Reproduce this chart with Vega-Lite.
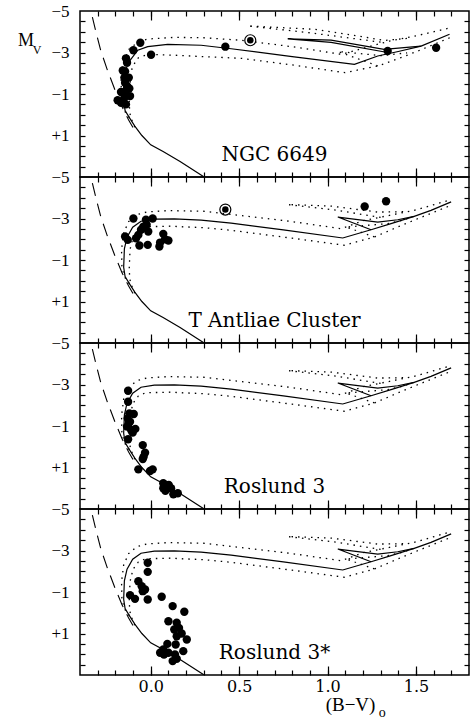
{
"$schema": "https://vega.github.io/schema/vega-lite/v6.json",
"padding": {"left": 17, "top": 1, "right": 2, "bottom": 2},
"background": "white",
"config": {"view": {"stroke": "black", "strokeWidth": 1.5}, "text": {"fill": "black"}},
"spacing": 0,
"bounds": "flush",
"datasets": {
"stars": [
{"p":1,"x":-0.059,"y":-3.47,"k":"s"},{"p":1,"x":-0.098,"y":-3.11,"k":"s"},{"p":1,"x":0.002,"y":-2.89,"k":"s"},{"p":1,"x":0.422,"y":-3.28,"k":"s"},
{"p":1,"x":-0.14,"y":-2.72,"k":"s"},{"p":1,"x":-0.134,"y":-2.51,"k":"s"},{"p":1,"x":-0.145,"y":-2.09,"k":"s"},{"p":1,"x":-0.158,"y":-2.13,"k":"s"},
{"p":1,"x":-0.124,"y":-1.79,"k":"s"},{"p":1,"x":-0.145,"y":-1.54,"k":"s"},{"p":1,"x":-0.121,"y":-1.27,"k":"s"},{"p":1,"x":-0.14,"y":-1.14,"k":"s"},
{"p":1,"x":-0.168,"y":-1.10,"k":"s"},{"p":1,"x":-0.117,"y":-0.90,"k":"s"},{"p":1,"x":-0.149,"y":-0.82,"k":"s"},{"p":1,"x":-0.187,"y":-0.70,"k":"s"},
{"p":1,"x":-0.168,"y":-0.58,"k":"s"},{"p":1,"x":-0.14,"y":-0.50,"k":"s"},{"p":1,"x":-0.158,"y":-0.65,"k":"s"},{"p":1,"x":-0.134,"y":-1.39,"k":"s"},
{"p":1,"x":-0.149,"y":-1.79,"k":"s"},{"p":1,"x":1.34,"y":-3.07,"k":"s"},{"p":1,"x":1.614,"y":-3.23,"k":"s"},{"p":1,"x":0.563,"y":-3.59,"k":"c"},
{"p":2,"x":-0.098,"y":-3.0,"k":"s"},{"p":2,"x":-0.027,"y":-2.94,"k":"s"},{"p":2,"x":0.011,"y":-3.0,"k":"s"},{"p":2,"x":-0.023,"y":-2.70,"k":"s"},
{"p":2,"x":-0.014,"y":-2.37,"k":"s"},{"p":2,"x":-0.055,"y":-2.46,"k":"s"},{"p":2,"x":-0.07,"y":-2.21,"k":"s"},{"p":2,"x":-0.083,"y":-2.05,"k":"s"},
{"p":2,"x":-0.145,"y":-2.13,"k":"s"},{"p":2,"x":-0.13,"y":-1.97,"k":"s"},{"p":2,"x":-0.064,"y":-1.70,"k":"s"},{"p":2,"x":-0.017,"y":-1.73,"k":"s"},
{"p":2,"x":0.071,"y":-2.26,"k":"s"},{"p":2,"x":0.1,"y":-1.94,"k":"s"},{"p":2,"x":0.053,"y":-1.84,"k":"s"},{"p":2,"x":0.049,"y":-1.65,"k":"s"},
{"p":2,"x":0.081,"y":-2.0,"k":"s"},{"p":2,"x":-0.042,"y":-2.61,"k":"s"},{"p":2,"x":1.21,"y":-3.58,"k":"s"},{"p":2,"x":1.331,"y":-3.83,"k":"s"},
{"p":2,"x":0.422,"y":-3.43,"k":"c"},
{"p":3,"x":-0.128,"y":-2.70,"k":"s"},{"p":3,"x":-0.128,"y":-2.17,"k":"s"},{"p":3,"x":-0.121,"y":-1.61,"k":"s"},{"p":3,"x":-0.096,"y":-1.58,"k":"s"},
{"p":3,"x":-0.13,"y":-1.37,"k":"s"},{"p":3,"x":-0.117,"y":-1.21,"k":"s"},{"p":3,"x":-0.134,"y":-0.97,"k":"s"},{"p":3,"x":-0.111,"y":-0.81,"k":"s"},
{"p":3,"x":-0.087,"y":-0.86,"k":"s"},{"p":3,"x":-0.102,"y":-0.68,"k":"s"},{"p":3,"x":-0.124,"y":-1.13,"k":"s"},{"p":3,"x":-0.128,"y":-0.36,"k":"s"},
{"p":3,"x":-0.045,"y":-0.08,"k":"s"},{"p":3,"x":-0.032,"y":0.29,"k":"s"},{"p":3,"x":-0.045,"y":0.59,"k":"s"},{"p":3,"x":-0.04,"y":0.48,"k":"s"},
{"p":3,"x":-0.07,"y":1.09,"k":"s"},{"p":3,"x":-0.004,"y":1.17,"k":"s"},{"p":3,"x":0.011,"y":1.09,"k":"s"},{"p":3,"x":0.071,"y":1.76,"k":"s"},
{"p":3,"x":0.071,"y":2.0,"k":"s"},{"p":3,"x":0.102,"y":1.84,"k":"s"},{"p":3,"x":0.115,"y":2.0,"k":"s"},{"p":3,"x":0.09,"y":1.93,"k":"s"},
{"p":3,"x":0.128,"y":2.29,"k":"s"},{"p":3,"x":0.153,"y":2.24,"k":"s"},{"p":3,"x":0.083,"y":2.12,"k":"s"},
{"p":4,"x":-0.017,"y":-2.41,"k":"s"},{"p":4,"x":-0.017,"y":-1.97,"k":"s"},{"p":4,"x":-0.07,"y":-1.52,"k":"s"},{"p":4,"x":-0.051,"y":-1.28,"k":"s"},
{"p":4,"x":-0.032,"y":-1.12,"k":"s"},{"p":4,"x":-0.045,"y":-1.04,"k":"s"},{"p":4,"x":-0.117,"y":-0.85,"k":"s"},{"p":4,"x":-0.089,"y":-0.67,"k":"s"},
{"p":4,"x":-0.017,"y":-0.64,"k":"s"},{"p":4,"x":0.062,"y":-0.77,"k":"s"},{"p":4,"x":0.124,"y":-0.32,"k":"s"},{"p":4,"x":0.19,"y":-0.05,"k":"s"},
{"p":4,"x":0.1,"y":0.41,"k":"s"},{"p":4,"x":0.147,"y":0.48,"k":"s"},{"p":4,"x":0.16,"y":0.73,"k":"s"},{"p":4,"x":0.133,"y":0.81,"k":"s"},
{"p":4,"x":0.175,"y":1.0,"k":"s"},{"p":4,"x":0.147,"y":1.13,"k":"s"},{"p":4,"x":0.204,"y":1.29,"k":"s"},{"p":4,"x":0.094,"y":1.5,"k":"s"},
{"p":4,"x":0.141,"y":1.53,"k":"s"},{"p":4,"x":0.184,"y":1.85,"k":"s"},{"p":4,"x":0.071,"y":1.77,"k":"s"},{"p":4,"x":0.075,"y":2.01,"k":"s"},
{"p":4,"x":0.1,"y":1.93,"k":"s"},{"p":4,"x":0.137,"y":2.01,"k":"s"},{"p":4,"x":0.147,"y":2.22,"k":"s"},{"p":4,"x":0.124,"y":2.33,"k":"s"},
{"p":4,"x":0.053,"y":1.93,"k":"s"}
],
"labels": [
{"p":1,"x":0.70,"y":2.23,"t":"NGC 6649"},
{"p":2,"x":0.70,"y":2.23,"t":"T Antliae Cluster"},
{"p":3,"x":0.70,"y":2.23,"t":"Roslund 3"},
{"p":4,"x":0.70,"y":2.23,"t":"Roslund 3*"}
],
"iso": [
{"s":"Z","t":"Z","g":"Z","i":1,"x":-0.33,"y":-4.7},{"s":"Z","t":"Z","g":"Z","i":2,"x":-0.31,"y":-4.0},{"s":"Z","t":"Z","g":"Z","i":3,"x":-0.283,"y":-3.1},
{"s":"Z","t":"Z","g":"Z","i":4,"x":-0.245,"y":-2.15},{"s":"Z","t":"Z","g":"Z","i":5,"x":-0.2,"y":-1.15},{"s":"Z","t":"Z","g":"Z","i":6,"x":-0.163,"y":-0.4},
{"s":"Z","t":"Z","g":"Z","i":7,"x":-0.125,"y":0.25},{"s":"Z","t":"Z","g":"Z","i":8,"x":-0.095,"y":0.7},

{"s":"B","t":"S","g":"Bs1","i":1,"x":0.30,"y":2.99},{"s":"B","t":"S","g":"Bs1","i":2,"x":0.166,"y":2.25},{"s":"B","t":"S","g":"Bs1","i":3,"x":0.07,"y":1.77},
{"s":"B","t":"S","g":"Bs1","i":4,"x":0.0,"y":1.45},{"s":"B","t":"S","g":"Bs1","i":5,"x":-0.05,"y":1.0},{"s":"B","t":"S","g":"Bs1","i":6,"x":-0.09,"y":0.55},
{"s":"B","t":"S","g":"Bs1","i":7,"x":-0.12,"y":0.15},{"s":"B","t":"S","g":"Bs1","i":8,"x":-0.145,"y":-0.2},{"s":"B","t":"S","g":"Bs1","i":9,"x":-0.153,"y":-0.65},
{"s":"B","t":"S","g":"Bs1","i":10,"x":-0.149,"y":-1.54},{"s":"B","t":"S","g":"Bs1","i":11,"x":-0.134,"y":-2.10},{"s":"B","t":"S","g":"Bs1","i":12,"x":-0.102,"y":-2.58},
{"s":"B","t":"S","g":"Bs1","i":13,"x":-0.055,"y":-2.87},{"s":"B","t":"S","g":"Bs1","i":14,"x":0.02,"y":-2.97},{"s":"B","t":"S","g":"Bs1","i":15,"x":0.133,"y":-2.98},
{"s":"B","t":"S","g":"Bs1","i":16,"x":0.285,"y":-2.92},{"s":"B","t":"S","g":"Bs1","i":17,"x":0.455,"y":-2.78},{"s":"B","t":"S","g":"Bs1","i":18,"x":0.75,"y":-2.45},
{"s":"B","t":"S","g":"Bs1","i":19,"x":1.086,"y":-2.06},{"s":"B","t":"S","g":"Bs1","i":20,"x":1.246,"y":-2.46},{"s":"B","t":"S","g":"Bs1","i":21,"x":1.359,"y":-2.75},
{"s":"B","t":"S","g":"Bs1","i":22,"x":1.49,"y":-3.10},{"s":"B","t":"S","g":"Bs1","i":23,"x":1.585,"y":-3.39},{"s":"B","t":"S","g":"Bs1","i":24,"x":1.699,"y":-3.80},
{"s":"B","t":"S","g":"Bs2","i":1,"x":1.246,"y":-2.46},{"s":"B","t":"S","g":"Bs2","i":2,"x":1.058,"y":-3.07},{"s":"B","t":"S","g":"Bs2","i":3,"x":1.284,"y":-2.83},
{"s":"B","t":"S","g":"Bs2","i":4,"x":1.397,"y":-2.94},{"s":"B","t":"S","g":"Bs2","i":5,"x":1.49,"y":-3.10},

{"s":"B","t":"D","g":"Bu1","i":1,"x":-0.12,"y":0.15},{"s":"B","t":"D","g":"Bu1","i":2,"x":-0.150,"y":-0.2},{"s":"B","t":"D","g":"Bu1","i":3,"x":-0.163,"y":-0.65},
{"s":"B","t":"D","g":"Bu1","i":4,"x":-0.165,"y":-1.5},{"s":"B","t":"D","g":"Bu1","i":5,"x":-0.153,"y":-2.3},{"s":"B","t":"D","g":"Bu1","i":6,"x":-0.125,"y":-2.85},
{"s":"B","t":"D","g":"Bu1","i":7,"x":-0.08,"y":-3.18},{"s":"B","t":"D","g":"Bu1","i":8,"x":-0.02,"y":-3.32},{"s":"B","t":"D","g":"Bu1","i":9,"x":0.1,"y":-3.38},
{"s":"B","t":"D","g":"Bu1","i":10,"x":0.3,"y":-3.35},{"s":"B","t":"D","g":"Bu1","i":11,"x":0.455,"y":-3.2},{"s":"B","t":"D","g":"Bu1","i":12,"x":0.8,"y":-2.85},
{"s":"B","t":"D","g":"Bu1","i":13,"x":1.077,"y":-2.51},{"s":"B","t":"D","g":"Bu1","i":14,"x":1.208,"y":-2.91},{"s":"B","t":"D","g":"Bu1","i":15,"x":1.35,"y":-3.15},
{"s":"B","t":"D","g":"Bu1","i":16,"x":1.49,"y":-3.39},{"s":"B","t":"D","g":"Bu1","i":17,"x":1.699,"y":-3.91},
{"s":"B","t":"D","g":"Bu2","i":1,"x":1.30,"y":-3.05},{"s":"B","t":"D","g":"Bu2","i":2,"x":1.05,"y":-3.40},{"s":"B","t":"D","g":"Bu2","i":3,"x":0.775,"y":-3.67},
{"s":"B","t":"D","g":"Bu2","i":4,"x":1.02,"y":-3.60},{"s":"B","t":"D","g":"Bu2","i":5,"x":1.284,"y":-3.31},{"s":"B","t":"D","g":"Bu2","i":6,"x":1.45,"y":-3.33},
{"s":"B","t":"D","g":"Bl1","i":1,"x":-0.09,"y":0.6},{"s":"B","t":"D","g":"Bl1","i":2,"x":-0.115,"y":0.1},{"s":"B","t":"D","g":"Bl1","i":3,"x":-0.122,"y":-0.5},
{"s":"B","t":"D","g":"Bl1","i":4,"x":-0.117,"y":-1.5},{"s":"B","t":"D","g":"Bl1","i":5,"x":-0.10,"y":-2.1},{"s":"B","t":"D","g":"Bl1","i":6,"x":-0.07,"y":-2.45},
{"s":"B","t":"D","g":"Bl1","i":7,"x":-0.03,"y":-2.6},{"s":"B","t":"D","g":"Bl1","i":8,"x":0.1,"y":-2.63},{"s":"B","t":"D","g":"Bl1","i":9,"x":0.3,"y":-2.56},
{"s":"B","t":"D","g":"Bl1","i":10,"x":0.455,"y":-2.43},{"s":"B","t":"D","g":"Bl1","i":11,"x":0.8,"y":-2.05},{"s":"B","t":"D","g":"Bl1","i":12,"x":1.095,"y":-1.71},
{"s":"B","t":"D","g":"Bl1","i":13,"x":1.265,"y":-2.11},{"s":"B","t":"D","g":"Bl1","i":14,"x":1.40,"y":-2.6},{"s":"B","t":"D","g":"Bl1","i":15,"x":1.51,"y":-2.99},
{"s":"B","t":"D","g":"Bl1","i":16,"x":1.699,"y":-3.64},
{"s":"B","t":"D","g":"Bl2","i":1,"x":1.265,"y":-2.11},{"s":"B","t":"D","g":"Bl2","i":2,"x":1.105,"y":-2.59},{"s":"B","t":"D","g":"Bl2","i":3,"x":1.34,"y":-2.75},
{"s":"B","t":"D","g":"Bl2","i":4,"x":1.45,"y":-2.97},

{"s":"A","t":"S","g":"As1","i":1,"x":0.30,"y":2.99},{"s":"A","t":"S","g":"As1","i":2,"x":0.166,"y":2.25},{"s":"A","t":"S","g":"As1","i":3,"x":0.07,"y":1.77},
{"s":"A","t":"S","g":"As1","i":4,"x":0.0,"y":1.45},{"s":"A","t":"S","g":"As1","i":5,"x":-0.05,"y":1.0},{"s":"A","t":"S","g":"As1","i":6,"x":-0.09,"y":0.55},
{"s":"A","t":"S","g":"As1","i":7,"x":-0.12,"y":0.15},{"s":"A","t":"S","g":"As1","i":8,"x":-0.145,"y":-0.2},{"s":"A","t":"S","g":"As1","i":9,"x":-0.155,"y":-0.8},
{"s":"A","t":"S","g":"As1","i":10,"x":-0.152,"y":-1.6},{"s":"A","t":"S","g":"As1","i":11,"x":-0.14,"y":-2.2},{"s":"A","t":"S","g":"As1","i":12,"x":-0.119,"y":-2.6},
{"s":"A","t":"S","g":"As1","i":13,"x":-0.073,"y":-3.11},{"s":"A","t":"S","g":"As1","i":14,"x":-0.017,"y":-3.28},{"s":"A","t":"S","g":"As1","i":15,"x":0.096,"y":-3.39},
{"s":"A","t":"S","g":"As1","i":16,"x":0.285,"y":-3.35},{"s":"A","t":"S","g":"As1","i":17,"x":0.455,"y":-3.18},{"s":"A","t":"S","g":"As1","i":18,"x":0.8,"y":-2.8},
{"s":"A","t":"S","g":"As1","i":19,"x":1.152,"y":-2.43},{"s":"A","t":"S","g":"As1","i":20,"x":1.284,"y":-2.83},{"s":"A","t":"S","g":"As1","i":21,"x":1.40,"y":-3.05},
{"s":"A","t":"S","g":"As1","i":22,"x":1.529,"y":-3.31},{"s":"A","t":"S","g":"As1","i":23,"x":1.69,"y":-3.88},
{"s":"A","t":"S","g":"As2","i":1,"x":1.34,"y":-3.0},{"s":"A","t":"S","g":"As2","i":2,"x":1.02,"y":-3.49},{"s":"A","t":"S","g":"As2","i":3,"x":0.775,"y":-3.66},
{"s":"A","t":"S","g":"As2","i":4,"x":1.02,"y":-3.60},{"s":"A","t":"S","g":"As2","i":5,"x":1.32,"y":-3.15},{"s":"A","t":"S","g":"As2","i":6,"x":1.529,"y":-3.31},

{"s":"A","t":"D","g":"Au1","i":1,"x":-0.12,"y":0.15},{"s":"A","t":"D","g":"Au1","i":2,"x":-0.150,"y":-0.2},{"s":"A","t":"D","g":"Au1","i":3,"x":-0.165,"y":-0.8},
{"s":"A","t":"D","g":"Au1","i":4,"x":-0.168,"y":-1.6},{"s":"A","t":"D","g":"Au1","i":5,"x":-0.158,"y":-2.5},{"s":"A","t":"D","g":"Au1","i":6,"x":-0.12,"y":-3.2},
{"s":"A","t":"D","g":"Au1","i":7,"x":-0.06,"y":-3.55},{"s":"A","t":"D","g":"Au1","i":8,"x":-0.015,"y":-3.65},{"s":"A","t":"D","g":"Au1","i":9,"x":0.135,"y":-3.73},
{"s":"A","t":"D","g":"Au1","i":10,"x":0.3,"y":-3.71},{"s":"A","t":"D","g":"Au1","i":11,"x":0.511,"y":-3.59},{"s":"A","t":"D","g":"Au1","i":12,"x":0.8,"y":-3.28},
{"s":"A","t":"D","g":"Au1","i":13,"x":1.077,"y":-2.91},{"s":"A","t":"D","g":"Au1","i":14,"x":1.2,"y":-3.2},{"s":"A","t":"D","g":"Au1","i":15,"x":1.35,"y":-3.55},
{"s":"A","t":"D","g":"Au1","i":16,"x":1.5,"y":-3.8},{"s":"A","t":"D","g":"Au1","i":17,"x":1.70,"y":-4.2},
{"s":"A","t":"D","g":"Au2","i":1,"x":1.3,"y":-3.5},{"s":"A","t":"D","g":"Au2","i":2,"x":0.9,"y":-3.95},{"s":"A","t":"D","g":"Au2","i":3,"x":0.549,"y":-4.28},
{"s":"A","t":"D","g":"Au2","i":4,"x":0.924,"y":-4.12},{"s":"A","t":"D","g":"Au2","i":5,"x":1.17,"y":-3.80},{"s":"A","t":"D","g":"Au2","i":6,"x":1.32,"y":-3.58},
{"s":"A","t":"D","g":"Au2","i":7,"x":1.45,"y":-3.68},
{"s":"A","t":"D","g":"Al1","i":1,"x":-0.09,"y":0.6},{"s":"A","t":"D","g":"Al1","i":2,"x":-0.115,"y":0.1},{"s":"A","t":"D","g":"Al1","i":3,"x":-0.122,"y":-0.5},
{"s":"A","t":"D","g":"Al1","i":4,"x":-0.117,"y":-1.5},{"s":"A","t":"D","g":"Al1","i":5,"x":-0.105,"y":-2.3},{"s":"A","t":"D","g":"Al1","i":6,"x":-0.07,"y":-2.75},
{"s":"A","t":"D","g":"Al1","i":7,"x":-0.015,"y":-2.91},{"s":"A","t":"D","g":"Al1","i":8,"x":0.135,"y":-2.87},{"s":"A","t":"D","g":"Al1","i":9,"x":0.3,"y":-2.8},
{"s":"A","t":"D","g":"Al1","i":10,"x":0.511,"y":-2.72},{"s":"A","t":"D","g":"Al1","i":11,"x":0.8,"y":-2.4},{"s":"A","t":"D","g":"Al1","i":12,"x":1.098,"y":-2.03},
{"s":"A","t":"D","g":"Al1","i":13,"x":1.284,"y":-2.35},{"s":"A","t":"D","g":"Al1","i":14,"x":1.40,"y":-2.7},{"s":"A","t":"D","g":"Al1","i":15,"x":1.51,"y":-3.07},
{"s":"A","t":"D","g":"Al1","i":16,"x":1.71,"y":-3.78},
{"s":"A","t":"D","g":"Al2","i":1,"x":1.284,"y":-2.35},{"s":"A","t":"D","g":"Al2","i":2,"x":1.06,"y":-3.05},{"s":"A","t":"D","g":"Al2","i":3,"x":1.3,"y":-2.85},
{"s":"A","t":"D","g":"Al2","i":4,"x":1.45,"y":-2.98}
]
},
"vconcat": [
{
"width": 389, "height": 166,
"resolve": {"axis": {"x": "independent", "y": "independent"}},
"layer": [
{"data": {"name": "iso"}, "transform": [{"filter": "datum.t=='Z'"}],
 "mark": {"type": "line", "strokeDash": [13, 8], "strokeWidth": 1.1, "color": "black"},
 "encoding": {
  "x": {"field": "x", "type": "quantitative", "scale": {"domain": [-0.4, 1.8], "nice": false, "zero": false},
        "axis": {"orient": "bottom", "values": [-0.3,-0.2,-0.1,0,0.1,0.2,0.3,0.4,0.5,0.6,0.7,0.8,0.9,1,1.1,1.2,1.3,1.4,1.5,1.6,1.7], "tickSize": -5, "tickWidth": 1.2, "tickColor": "black", "labels": false, "domain": false, "grid": false, "title": null}},
  "y": {"field": "y", "type": "quantitative", "scale": {"domain": [-5, 3], "reverse": true, "nice": false, "zero": false},
        "axis": {"orient": "left", "values": [-4.5,-4,-3.5,-3,-2.5,-2,-1.5,-1,-0.5,0,0.5,1,1.5,2,2.5], "tickSize": -5, "tickWidth": 1.2, "tickColor": "black", "labels": false, "domain": false, "grid": false, "title": null}},
  "detail": {"field": "g"}, "order": {"field": "i", "type": "quantitative"}}},
{"data": {"name": "iso"}, "transform": [{"filter": "datum.s=='A' && datum.t=='S'"}],
 "mark": {"type": "line", "strokeWidth": 1.2, "color": "black"},
 "encoding": {
  "x": {"field": "x", "type": "quantitative", "axis": {"orient": "top", "values": [-0.3,-0.2,-0.1,0,0.1,0.2,0.3,0.4,0.5,0.6,0.7,0.8,0.9,1,1.1,1.2,1.3,1.4,1.5,1.6,1.7], "tickSize": -5, "tickWidth": 1.2, "tickColor": "black", "labels": false, "domain": false, "grid": false, "title": null}},
  "y": {"field": "y", "type": "quantitative", "axis": {"orient": "right", "values": [-4.5,-4,-3.5,-3,-2.5,-2,-1.5,-1,-0.5,0,0.5,1,1.5,2,2.5], "tickSize": -5, "tickWidth": 1.2, "tickColor": "black", "labels": false, "domain": false, "grid": false, "title": null}},
  "detail": {"field": "g"}, "order": {"field": "i", "type": "quantitative"}}},
{"data": {"name": "iso"}, "transform": [{"filter": "datum.s=='A' && datum.t=='D'"}],
 "mark": {"type": "line", "strokeDash": [1.5, 5], "strokeWidth": 1.3, "color": "black"},
 "encoding": {
  "x": {"field": "x", "type": "quantitative", "axis": {"orient": "bottom", "values": [0, 0.5, 1, 1.5], "tickSize": -9, "tickWidth": 1.2, "tickColor": "black", "labels": false, "domain": false, "grid": false, "title": null}},
  "y": {"field": "y", "type": "quantitative", "axis": {"orient": "left", "values": [-5, -3, -1, 1], "ticks": false, "domain": false, "grid": false, "title": null, "labelExpr": "datum.value > 0 ? '+' + datum.value : '−' + abs(datum.value)", "labelFont": "Liberation Serif", "labelFontSize": 17, "labelColor": "black", "labelPadding": 11}},
  "detail": {"field": "g"}, "order": {"field": "i", "type": "quantitative"}}},
{"data": {"name": "stars"}, "transform": [{"filter": "datum.p==1 && datum.k=='s'"}],
 "mark": {"type": "circle", "size": 70, "color": "black", "opacity": 1},
 "encoding": {
  "x": {"field": "x", "type": "quantitative", "axis": {"orient": "top", "values": [0, 0.5, 1, 1.5], "tickSize": -9, "tickWidth": 1.2, "tickColor": "black", "labels": false, "domain": false, "grid": false, "title": null}},
  "y": {"field": "y", "type": "quantitative", "axis": null}}},
{"data": {"name": "stars"}, "transform": [{"filter": "datum.p==1 && datum.k=='c'"}],
 "mark": {"type": "point", "shape": "circle", "filled": false, "size": 121, "strokeWidth": 1.2, "color": "black", "opacity": 1},
 "encoding": {"x": {"field": "x", "type": "quantitative", "axis": null}, "y": {"field": "y", "type": "quantitative", "axis": null}}},
{"data": {"name": "stars"}, "transform": [{"filter": "datum.p==1 && datum.k=='c'"}],
 "mark": {"type": "circle", "size": 42, "color": "black", "opacity": 1},
 "encoding": {"x": {"field": "x", "type": "quantitative", "axis": null}, "y": {"field": "y", "type": "quantitative", "axis": null}}},
{"data": {"name": "labels"}, "transform": [{"filter": "datum.p==1"}],
 "mark": {"type": "text", "font": "DejaVu Serif", "fontSize": 20, "align": "center", "baseline": "alphabetic", "fill": "black"},
 "encoding": {"x": {"field": "x", "type": "quantitative", "axis": null}, "y": {"field": "y", "type": "quantitative", "axis": null}, "text": {"field": "t"}}},
{"data": {"values": [{}]},
 "mark": {"type": "text", "font": "Liberation Serif", "fontSize": 18, "align": "center", "baseline": "alphabetic", "fill": "black"},
 "encoding": {"x": {"datum": -0.705, "type": "quantitative", "axis": null}, "y": {"datum": -3.31, "type": "quantitative", "axis": null}, "text": {"value": "M"}}},
{"data": {"values": [{}]},
 "mark": {"type": "text", "font": "Liberation Serif", "fontSize": 12, "align": "center", "baseline": "alphabetic", "fill": "black"},
 "encoding": {"x": {"datum": -0.643, "type": "quantitative", "axis": null}, "y": {"datum": -2.93, "type": "quantitative", "axis": null}, "text": {"value": "V"}}}
]
},
{
"width": 389, "height": 166,
"resolve": {"axis": {"x": "independent", "y": "independent"}},
"layer": [
{"data": {"name": "iso"}, "transform": [{"filter": "datum.t=='Z'"}],
 "mark": {"type": "line", "strokeDash": [13, 8], "strokeWidth": 1.1, "color": "black"},
 "encoding": {
  "x": {"field": "x", "type": "quantitative", "scale": {"domain": [-0.4, 1.8], "nice": false, "zero": false},
        "axis": {"orient": "bottom", "values": [-0.3,-0.2,-0.1,0,0.1,0.2,0.3,0.4,0.5,0.6,0.7,0.8,0.9,1,1.1,1.2,1.3,1.4,1.5,1.6,1.7], "tickSize": -5, "tickWidth": 1.2, "tickColor": "black", "labels": false, "domain": false, "grid": false, "title": null}},
  "y": {"field": "y", "type": "quantitative", "scale": {"domain": [-5, 3], "reverse": true, "nice": false, "zero": false},
        "axis": {"orient": "left", "values": [-4.5,-4,-3.5,-3,-2.5,-2,-1.5,-1,-0.5,0,0.5,1,1.5,2,2.5], "tickSize": -5, "tickWidth": 1.2, "tickColor": "black", "labels": false, "domain": false, "grid": false, "title": null}},
  "detail": {"field": "g"}, "order": {"field": "i", "type": "quantitative"}}},
{"data": {"name": "iso"}, "transform": [{"filter": "datum.s=='B' && datum.t=='S'"}],
 "mark": {"type": "line", "strokeWidth": 1.2, "color": "black"},
 "encoding": {
  "x": {"field": "x", "type": "quantitative", "axis": {"orient": "top", "values": [-0.3,-0.2,-0.1,0,0.1,0.2,0.3,0.4,0.5,0.6,0.7,0.8,0.9,1,1.1,1.2,1.3,1.4,1.5,1.6,1.7], "tickSize": -5, "tickWidth": 1.2, "tickColor": "black", "labels": false, "domain": false, "grid": false, "title": null}},
  "y": {"field": "y", "type": "quantitative", "axis": {"orient": "right", "values": [-4.5,-4,-3.5,-3,-2.5,-2,-1.5,-1,-0.5,0,0.5,1,1.5,2,2.5], "tickSize": -5, "tickWidth": 1.2, "tickColor": "black", "labels": false, "domain": false, "grid": false, "title": null}},
  "detail": {"field": "g"}, "order": {"field": "i", "type": "quantitative"}}},
{"data": {"name": "iso"}, "transform": [{"filter": "datum.s=='B' && datum.t=='D'"}],
 "mark": {"type": "line", "strokeDash": [1.5, 5], "strokeWidth": 1.3, "color": "black"},
 "encoding": {
  "x": {"field": "x", "type": "quantitative", "axis": {"orient": "bottom", "values": [0, 0.5, 1, 1.5], "tickSize": -9, "tickWidth": 1.2, "tickColor": "black", "labels": false, "domain": false, "grid": false, "title": null}},
  "y": {"field": "y", "type": "quantitative", "axis": {"orient": "left", "values": [-5, -3, -1, 1], "ticks": false, "domain": false, "grid": false, "title": null, "labelExpr": "datum.value > 0 ? '+' + datum.value : '−' + abs(datum.value)", "labelFont": "Liberation Serif", "labelFontSize": 17, "labelColor": "black", "labelPadding": 11}},
  "detail": {"field": "g"}, "order": {"field": "i", "type": "quantitative"}}},
{"data": {"name": "stars"}, "transform": [{"filter": "datum.p==2 && datum.k=='s'"}],
 "mark": {"type": "circle", "size": 70, "color": "black", "opacity": 1},
 "encoding": {
  "x": {"field": "x", "type": "quantitative", "axis": {"orient": "top", "values": [0, 0.5, 1, 1.5], "tickSize": -9, "tickWidth": 1.2, "tickColor": "black", "labels": false, "domain": false, "grid": false, "title": null}},
  "y": {"field": "y", "type": "quantitative", "axis": null}}},
{"data": {"name": "stars"}, "transform": [{"filter": "datum.p==2 && datum.k=='c'"}],
 "mark": {"type": "point", "shape": "circle", "filled": false, "size": 121, "strokeWidth": 1.2, "color": "black", "opacity": 1},
 "encoding": {"x": {"field": "x", "type": "quantitative", "axis": null}, "y": {"field": "y", "type": "quantitative", "axis": null}}},
{"data": {"name": "stars"}, "transform": [{"filter": "datum.p==2 && datum.k=='c'"}],
 "mark": {"type": "circle", "size": 42, "color": "black", "opacity": 1},
 "encoding": {"x": {"field": "x", "type": "quantitative", "axis": null}, "y": {"field": "y", "type": "quantitative", "axis": null}}},
{"data": {"name": "labels"}, "transform": [{"filter": "datum.p==2"}],
 "mark": {"type": "text", "font": "DejaVu Serif", "fontSize": 20, "align": "center", "baseline": "alphabetic", "fill": "black"},
 "encoding": {"x": {"field": "x", "type": "quantitative", "axis": null}, "y": {"field": "y", "type": "quantitative", "axis": null}, "text": {"field": "t"}}}
]
},
{
"width": 389, "height": 166,
"resolve": {"axis": {"x": "independent", "y": "independent"}},
"layer": [
{"data": {"name": "iso"}, "transform": [{"filter": "datum.t=='Z'"}],
 "mark": {"type": "line", "strokeDash": [13, 8], "strokeWidth": 1.1, "color": "black"},
 "encoding": {
  "x": {"field": "x", "type": "quantitative", "scale": {"domain": [-0.4, 1.8], "nice": false, "zero": false},
        "axis": {"orient": "bottom", "values": [-0.3,-0.2,-0.1,0,0.1,0.2,0.3,0.4,0.5,0.6,0.7,0.8,0.9,1,1.1,1.2,1.3,1.4,1.5,1.6,1.7], "tickSize": -5, "tickWidth": 1.2, "tickColor": "black", "labels": false, "domain": false, "grid": false, "title": null}},
  "y": {"field": "y", "type": "quantitative", "scale": {"domain": [-5, 3], "reverse": true, "nice": false, "zero": false},
        "axis": {"orient": "left", "values": [-4.5,-4,-3.5,-3,-2.5,-2,-1.5,-1,-0.5,0,0.5,1,1.5,2,2.5], "tickSize": -5, "tickWidth": 1.2, "tickColor": "black", "labels": false, "domain": false, "grid": false, "title": null}},
  "detail": {"field": "g"}, "order": {"field": "i", "type": "quantitative"}}},
{"data": {"name": "iso"}, "transform": [{"filter": "datum.s=='B' && datum.t=='S'"}],
 "mark": {"type": "line", "strokeWidth": 1.2, "color": "black"},
 "encoding": {
  "x": {"field": "x", "type": "quantitative", "axis": {"orient": "top", "values": [-0.3,-0.2,-0.1,0,0.1,0.2,0.3,0.4,0.5,0.6,0.7,0.8,0.9,1,1.1,1.2,1.3,1.4,1.5,1.6,1.7], "tickSize": -5, "tickWidth": 1.2, "tickColor": "black", "labels": false, "domain": false, "grid": false, "title": null}},
  "y": {"field": "y", "type": "quantitative", "axis": {"orient": "right", "values": [-4.5,-4,-3.5,-3,-2.5,-2,-1.5,-1,-0.5,0,0.5,1,1.5,2,2.5], "tickSize": -5, "tickWidth": 1.2, "tickColor": "black", "labels": false, "domain": false, "grid": false, "title": null}},
  "detail": {"field": "g"}, "order": {"field": "i", "type": "quantitative"}}},
{"data": {"name": "iso"}, "transform": [{"filter": "datum.s=='B' && datum.t=='D'"}],
 "mark": {"type": "line", "strokeDash": [1.5, 5], "strokeWidth": 1.3, "color": "black"},
 "encoding": {
  "x": {"field": "x", "type": "quantitative", "axis": {"orient": "bottom", "values": [0, 0.5, 1, 1.5], "tickSize": -9, "tickWidth": 1.2, "tickColor": "black", "labels": false, "domain": false, "grid": false, "title": null}},
  "y": {"field": "y", "type": "quantitative", "axis": {"orient": "left", "values": [-5, -3, -1, 1], "ticks": false, "domain": false, "grid": false, "title": null, "labelExpr": "datum.value > 0 ? '+' + datum.value : '−' + abs(datum.value)", "labelFont": "Liberation Serif", "labelFontSize": 17, "labelColor": "black", "labelPadding": 11}},
  "detail": {"field": "g"}, "order": {"field": "i", "type": "quantitative"}}},
{"data": {"name": "stars"}, "transform": [{"filter": "datum.p==3 && datum.k=='s'"}],
 "mark": {"type": "circle", "size": 70, "color": "black", "opacity": 1},
 "encoding": {
  "x": {"field": "x", "type": "quantitative", "axis": {"orient": "top", "values": [0, 0.5, 1, 1.5], "tickSize": -9, "tickWidth": 1.2, "tickColor": "black", "labels": false, "domain": false, "grid": false, "title": null}},
  "y": {"field": "y", "type": "quantitative", "axis": null}}},
{"data": {"name": "labels"}, "transform": [{"filter": "datum.p==3"}],
 "mark": {"type": "text", "font": "DejaVu Serif", "fontSize": 20, "align": "center", "baseline": "alphabetic", "fill": "black"},
 "encoding": {"x": {"field": "x", "type": "quantitative", "axis": null}, "y": {"field": "y", "type": "quantitative", "axis": null}, "text": {"field": "t"}}}
]
},
{
"width": 389, "height": 166,
"resolve": {"axis": {"x": "independent", "y": "independent"}},
"layer": [
{"data": {"name": "iso"}, "transform": [{"filter": "datum.t=='Z'"}],
 "mark": {"type": "line", "strokeDash": [13, 8], "strokeWidth": 1.1, "color": "black"},
 "encoding": {
  "x": {"field": "x", "type": "quantitative", "scale": {"domain": [-0.4, 1.8], "nice": false, "zero": false},
        "axis": {"orient": "bottom", "values": [-0.3,-0.2,-0.1,0,0.1,0.2,0.3,0.4,0.5,0.6,0.7,0.8,0.9,1,1.1,1.2,1.3,1.4,1.5,1.6,1.7], "tickSize": -5, "tickWidth": 1.2, "tickColor": "black", "labels": false, "domain": false, "grid": false, "title": null}},
  "y": {"field": "y", "type": "quantitative", "scale": {"domain": [-5, 3], "reverse": true, "nice": false, "zero": false},
        "axis": {"orient": "left", "values": [-4.5,-4,-3.5,-3,-2.5,-2,-1.5,-1,-0.5,0,0.5,1,1.5,2,2.5], "tickSize": -5, "tickWidth": 1.2, "tickColor": "black", "labels": false, "domain": false, "grid": false, "title": null}},
  "detail": {"field": "g"}, "order": {"field": "i", "type": "quantitative"}}},
{"data": {"name": "iso"}, "transform": [{"filter": "datum.s=='B' && datum.t=='S'"}],
 "mark": {"type": "line", "strokeWidth": 1.2, "color": "black"},
 "encoding": {
  "x": {"field": "x", "type": "quantitative", "axis": {"orient": "top", "values": [-0.3,-0.2,-0.1,0,0.1,0.2,0.3,0.4,0.5,0.6,0.7,0.8,0.9,1,1.1,1.2,1.3,1.4,1.5,1.6,1.7], "tickSize": -5, "tickWidth": 1.2, "tickColor": "black", "labels": false, "domain": false, "grid": false, "title": null}},
  "y": {"field": "y", "type": "quantitative", "axis": {"orient": "right", "values": [-4.5,-4,-3.5,-3,-2.5,-2,-1.5,-1,-0.5,0,0.5,1,1.5,2,2.5], "tickSize": -5, "tickWidth": 1.2, "tickColor": "black", "labels": false, "domain": false, "grid": false, "title": null}},
  "detail": {"field": "g"}, "order": {"field": "i", "type": "quantitative"}}},
{"data": {"name": "iso"}, "transform": [{"filter": "datum.s=='B' && datum.t=='D'"}],
 "mark": {"type": "line", "strokeDash": [1.5, 5], "strokeWidth": 1.3, "color": "black"},
 "encoding": {
  "x": {"field": "x", "type": "quantitative", "axis": {"orient": "bottom", "values": [0, 0.5, 1, 1.5], "tickSize": -9, "tickWidth": 1.2, "tickColor": "black", "labels": false, "domain": false, "grid": false, "title": null}},
  "y": {"field": "y", "type": "quantitative", "axis": {"orient": "left", "values": [-5, -3, -1, 1], "ticks": false, "domain": false, "grid": false, "title": null, "labelExpr": "datum.value > 0 ? '+' + datum.value : '−' + abs(datum.value)", "labelFont": "Liberation Serif", "labelFontSize": 17, "labelColor": "black", "labelPadding": 11}},
  "detail": {"field": "g"}, "order": {"field": "i", "type": "quantitative"}}},
{"data": {"name": "stars"}, "transform": [{"filter": "datum.p==4 && datum.k=='s'"}],
 "mark": {"type": "circle", "size": 70, "color": "black", "opacity": 1},
 "encoding": {
  "x": {"field": "x", "type": "quantitative", "axis": {"orient": "top", "values": [0, 0.5, 1, 1.5], "tickSize": -9, "tickWidth": 1.2, "tickColor": "black", "labels": false, "domain": false, "grid": false, "title": null}},
  "y": {"field": "y", "type": "quantitative", "axis": null}}},
{"data": {"name": "labels"}, "transform": [{"filter": "datum.p==4"}],
 "mark": {"type": "text", "font": "DejaVu Serif", "fontSize": 20, "align": "center", "baseline": "alphabetic", "fill": "black"},
 "encoding": {
  "x": {"field": "x", "type": "quantitative", "axis": {"orient": "bottom", "values": [0, 0.5, 1, 1.5], "format": ".1f", "ticks": false, "domain": false, "grid": false, "title": null, "labelFont": "DejaVu Serif", "labelFontSize": 16, "labelColor": "black", "labelPadding": 3, "labelFlush": false}},
  "y": {"field": "y", "type": "quantitative", "axis": null}, "text": {"field": "t"}}},
{"data": {"values": [{}]},
 "mark": {"type": "text", "font": "Liberation Serif", "fontSize": 19, "align": "center", "baseline": "alphabetic", "fill": "black"},
 "encoding": {"x": {"datum": 1.13, "type": "quantitative", "axis": null}, "y": {"datum": 4.72, "type": "quantitative", "axis": null}, "text": {"value": "(B−V)"}}},
{"data": {"values": [{}]},
 "mark": {"type": "text", "font": "Liberation Serif", "fontSize": 14, "align": "center", "baseline": "alphabetic", "fill": "black"},
 "encoding": {"x": {"datum": 1.31, "type": "quantitative", "axis": null}, "y": {"datum": 5.02, "type": "quantitative", "axis": null}, "text": {"value": "o"}}}
]
}
]
}
